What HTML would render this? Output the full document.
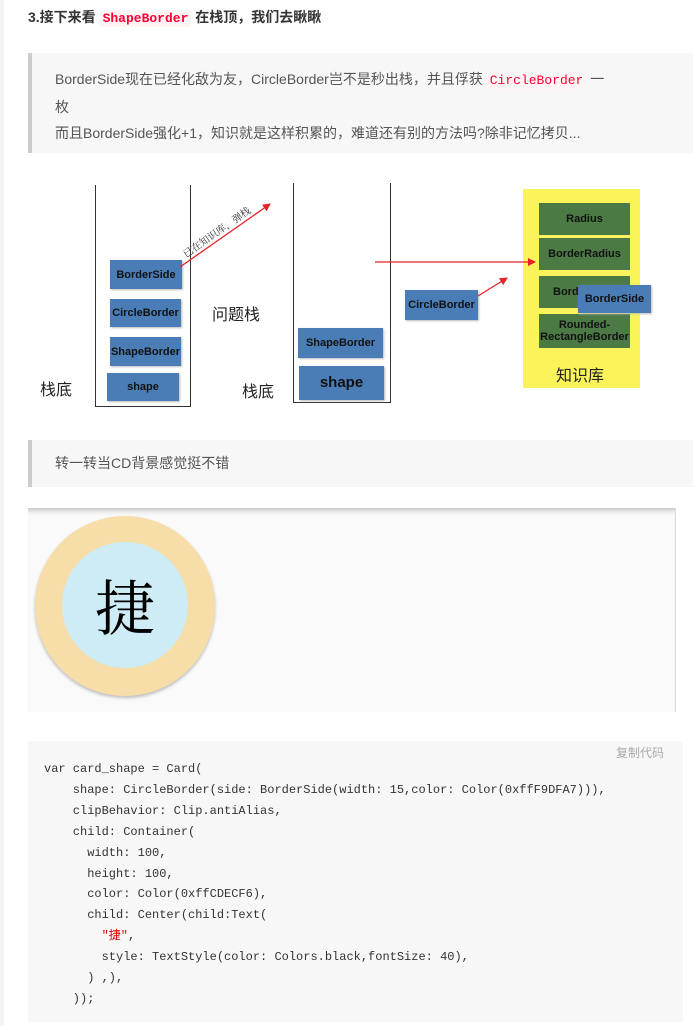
<!DOCTYPE html>
<html><head><meta charset="utf-8"><style>
body{margin:0;width:693px;height:1026px;background:#fff;position:relative;overflow:hidden;font-family:"Liberation Sans","Noto Sans CJK SC",sans-serif;}
.a{position:absolute}
.strip{left:0;top:0;width:4px;height:1026px;background:#f3f4f5}
h3{position:absolute;left:28px;top:6px;margin:0;font-size:14px;font-weight:bold;color:#333;line-height:22px}
code.i{font-family:"Liberation Mono",monospace;background:#fff5f5;padding:1px 3px;font-size:13px;color:#f03}
.bq{position:absolute;left:28px;width:665px;background:#f7f7f7;border-left:4px solid #ccc;box-sizing:border-box;padding-left:23px;color:#555;font-size:14px;line-height:26px}
.bx{position:absolute;background:#4a7db5;color:#111;font-weight:bold;font-size:11px;display:flex;align-items:center;justify-content:center;text-align:center;box-shadow:1px 1px 2px #bbb;line-height:12px}
.gb{position:absolute;background:#4b7a45;color:#111;font-weight:bold;font-size:11px;display:flex;align-items:center;justify-content:center;text-align:center;line-height:12px;left:539px;width:91px}
.ln{position:absolute;background:#333}
.cj{position:absolute;font-size:16px;color:#222}
pre{position:absolute;left:28px;top:741px;width:655px;height:281px;margin:0;background:#f7f7f7;font-family:"Liberation Mono",monospace;font-size:12px;line-height:20.9px;color:#333;padding:18px 0 0 16px;box-sizing:border-box}
</style></head><body>
<div class="a strip"></div>
<h3>3.接下来看 <code class="i">ShapeBorder</code> 在栈顶，我们去瞅瞅</h3>
<div class="bq" style="top:53px;height:100px;padding-top:13px">BorderSide现在已经化敌为友，CircleBorder岂不是秒出栈，并且俘获 <code class="i">CircleBorder</code> 一<br>枚<br>而且BorderSide强化+1，知识就是这样积累的，难道还有别的方法吗?除非记忆拷贝...</div>

<div class="ln" style="left:95px;top:185px;width:1px;height:222px"></div>
<div class="ln" style="left:190px;top:185px;width:1px;height:222px"></div>
<div class="ln" style="left:95px;top:406px;width:96px;height:1px"></div>
<div class="bx" style="left:110px;top:260px;width:72px;height:29px">BorderSide</div>
<div class="bx" style="left:110px;top:299px;width:71px;height:28px">CircleBorder</div>
<div class="bx" style="left:110px;top:337px;width:71px;height:29px">ShapeBorder</div>
<div class="bx" style="left:107px;top:373px;width:72px;height:28px">shape</div>
<div class="cj" style="left:40px;top:376px">栈底</div>
<div class="cj" style="left:212px;top:301px">问题栈</div>

<div class="ln" style="left:293px;top:183px;width:1px;height:220px"></div>
<div class="ln" style="left:390px;top:183px;width:1px;height:220px"></div>
<div class="ln" style="left:293px;top:402px;width:98px;height:1px"></div>
<div class="bx" style="left:298px;top:328px;width:85px;height:30px">ShapeBorder</div>
<div class="bx" style="left:299px;top:366px;width:85px;height:34px;font-size:15px">shape</div>
<div class="cj" style="left:242px;top:378px">栈底</div>

<div class="a" style="left:523px;top:189px;width:117px;height:199px;background:#fbf35a"></div>
<div class="gb" style="top:203px;height:32px">Radius</div>
<div class="gb" style="top:238px;height:32px">BorderRadius</div>
<div class="gb" style="top:276px;height:32px;justify-content:flex-start;padding-left:14px;box-sizing:border-box">Bord</div>
<div class="gb" style="top:314px;height:34px">Rounded-<br>RectangleBorder</div>
<div class="bx" style="left:578px;top:285px;width:73px;height:28px">BorderSide</div>
<div class="cj" style="left:556px;top:362px">知识库</div>
<div class="bx" style="left:405px;top:290px;width:73px;height:30px">CircleBorder</div>

<svg class="a" style="left:0;top:0" width="693" height="430">
<defs><marker id="m" markerWidth="8" markerHeight="8" refX="7" refY="4" orient="auto" markerUnits="userSpaceOnUse"><path d="M0,0L8,4L0,8z" fill="#e8202a"/></marker></defs>
<line x1="180" y1="267" x2="270" y2="204" stroke="#e8202a" stroke-width="1.3" marker-end="url(#m)"/>
<line x1="375" y1="262" x2="535" y2="262" stroke="#e8202a" stroke-width="1.3" marker-end="url(#m)"/>
<line x1="478" y1="296" x2="507" y2="278" stroke="#e8202a" stroke-width="1.3" marker-end="url(#m)"/>
<text x="0" y="0" transform="translate(186,258) rotate(-35)" font-family="Liberation Serif,Noto Serif CJK SC,serif" font-size="10" fill="#333">已在知识库，弹栈</text>
</svg>

<div class="bq" style="top:440px;height:47px;line-height:47px">转一转当CD背景感觉挺不错</div>

<div class="a" style="left:28px;top:508px;width:647px;height:204px;background:#fafafa;box-shadow:inset 0 7px 6px -5px rgba(0,0,0,.25);border-right:1px solid #ddd"></div>
<div class="a" style="left:35px;top:516px;width:180px;height:180px;border-radius:50%;background:#f7dea8;box-shadow:0 2px 3px rgba(0,0,0,.25)"></div>
<div class="a" style="left:62px;top:542px;width:126px;height:126px;border-radius:50%;background:#cdecf6;display:flex;align-items:center;justify-content:center;font-size:60px;font-family:'Noto Serif CJK SC',serif;color:#000">捷</div>

<pre>var card_shape = Card(
    shape: CircleBorder(side: BorderSide(width: 15,color: Color(0xffF9DFA7))),
    clipBehavior: Clip.antiAlias,
    child: Container(
      width: 100,
      height: 100,
      color: Color(0xffCDECF6),
      child: Center(child:Text(
        <span style="color:#d00">"捷"</span>,
        style: TextStyle(color: Colors.black,fontSize: 40),
      ) ,),
    ));</pre>
<div class="a" style="left:616px;top:744px;font-size:12px;color:#aaa">复制代码</div>
</body></html>
